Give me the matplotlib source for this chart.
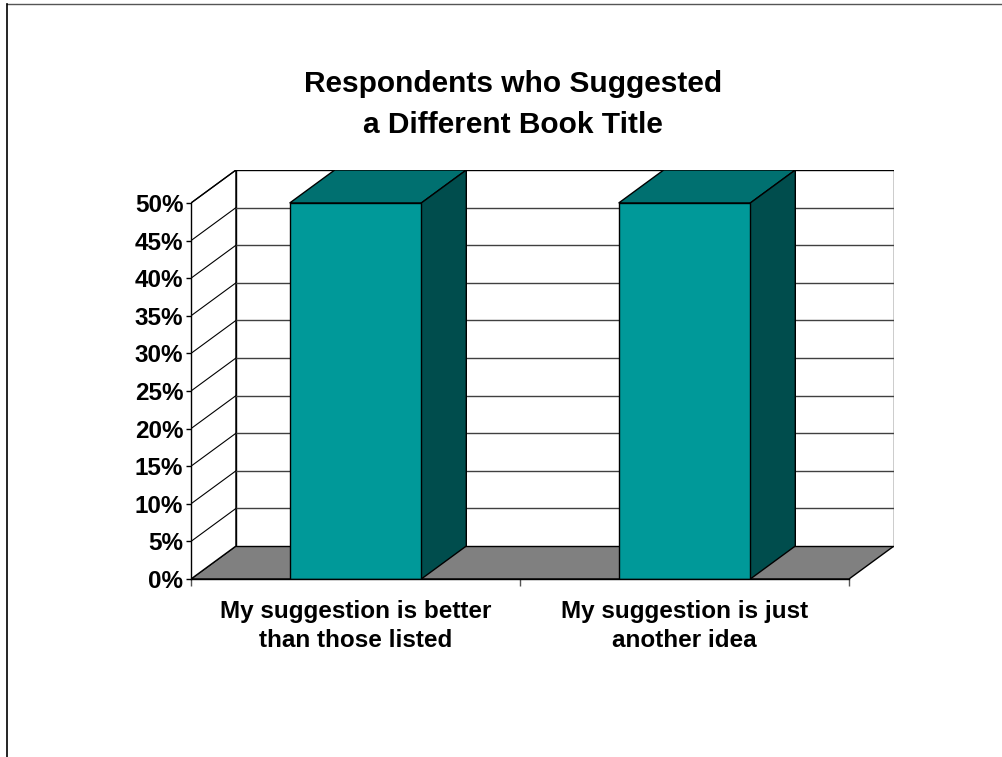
import matplotlib
matplotlib.use("Agg")
import matplotlib.pyplot as plt
import matplotlib.transforms as mtransforms
from matplotlib.patches import Polygon, Rectangle
from matplotlib.lines import Line2D

# data
categories = ["My suggestion is better\nthan those listed",
              "My suggestion is just\nanother idea"]
values = [50, 50]
ytick_vals = [0, 5, 10, 15, 20, 25, 30, 35, 40, 45, 50]
ytick_labels = [f"{v}%" for v in ytick_vals]
title_lines = ["Respondents who Suggested", "a Different Book Title"]

plt.rcParams['font.family'] = ['Liberation Sans', 'DejaVu Sans']
plt.rcParams['font.weight'] = 'bold'

W, H = 1003, 757
fig = plt.figure(figsize=(W / 100, H / 100), dpi=100)

# outer frame (top + left)
fig.add_artist(Line2D([7 / W, 1], [1 - 4 / H, 1 - 4 / H], color='#555555', lw=1))
fig.add_artist(Line2D([7 / W, 7 / W], [0, 1 - 4 / H], color='black', lw=1.2))

# 3d-ish depth offset in data units
n = len(categories)
ymax = 50
ddx = 45 / 329.0
ddy = 33 / 7.52

ax = fig.add_axes([191 / W, 1 - 579 / H, 703 / W, 409 / H])
ax.set_xlim(0, n + ddx)
ax.set_ylim(0, ymax + ddy)
ax.patch.set_visible(False)
for s in ax.spines.values():
    s.set_visible(False)

# floor
ax.add_patch(Polygon([(0, 0), (n, 0), (n + ddx, ddy), (ddx, ddy)], closed=True,
                     facecolor='#808080', edgecolor='black', lw=1, zorder=1))
# left wall
ax.add_patch(Polygon([(0, 0), (ddx, ddy), (ddx, ymax + ddy), (0, ymax)], closed=True,
                     facecolor='white', edgecolor='black', lw=1, zorder=1))
# back wall
ax.add_patch(Rectangle((ddx, ddy), n, ymax, facecolor='white', edgecolor='black',
                       lw=1, zorder=1))

# gridlines
for v in ytick_vals[1:-1]:
    ax.plot([ddx, n + ddx], [v + ddy, v + ddy], color='#404040', lw=1, zorder=2)
for v in ytick_vals[1:]:
    ax.plot([0, ddx], [v, v + ddy], color='black', lw=0.8, zorder=2)

# bars
front_c, top_c, side_c = '#009999', '#007070', '#004d4d'
w = 0.2
for i, v in enumerate(values):
    c = i + 0.5
    ax.add_patch(Polygon([(c - w, v), (c + w, v), (c + w + ddx, v + ddy), (c - w + ddx, v + ddy)],
                         closed=True, facecolor=top_c, edgecolor='black', lw=1, zorder=3))
    ax.add_patch(Polygon([(c + w, 0), (c + w + ddx, ddy), (c + w + ddx, v + ddy), (c + w, v)],
                         closed=True, facecolor=side_c, edgecolor='black', lw=1, zorder=3))
    ax.add_patch(Rectangle((c - w, 0), 2 * w, v, facecolor=front_c, edgecolor='black',
                           lw=1, zorder=4))

# front axis lines
ax.plot([0, 0], [0, ymax], color='black', lw=1, clip_on=False, zorder=5)
ax.plot([0, n], [0, 0], color='black', lw=1, clip_on=False, zorder=5)

ax.set_yticks(ytick_vals)
ax.set_yticklabels(ytick_labels, fontsize=17.5, fontweight='bold')
ax.tick_params(axis='y', length=3.5, width=1, pad=2)

ax.set_xticks(range(n + 1))
ax.set_xticklabels([])
ax.tick_params(axis='x', length=5, width=1, color='#555555')

# category labels, one line at a time so the baselines sit right
trans = mtransforms.blended_transform_factory(ax.transData, fig.transFigure)
for i, lab in enumerate(categories):
    for j, line in enumerate(lab.split("\n")):
        ax.text(i + 0.5, 1 - (618 + 29 * j) / H, line, transform=trans,
                ha='center', va='baseline', fontsize=17.5, fontweight='bold')

fig.text(513 / W, 1 - 92 / H, title_lines[0], ha='center', va='baseline',
         fontsize=21.5, fontweight='bold')
fig.text(513 / W, 1 - 133 / H, title_lines[1], ha='center', va='baseline',
         fontsize=21.5, fontweight='bold')

fig.savefig('out.png', dpi=100)
